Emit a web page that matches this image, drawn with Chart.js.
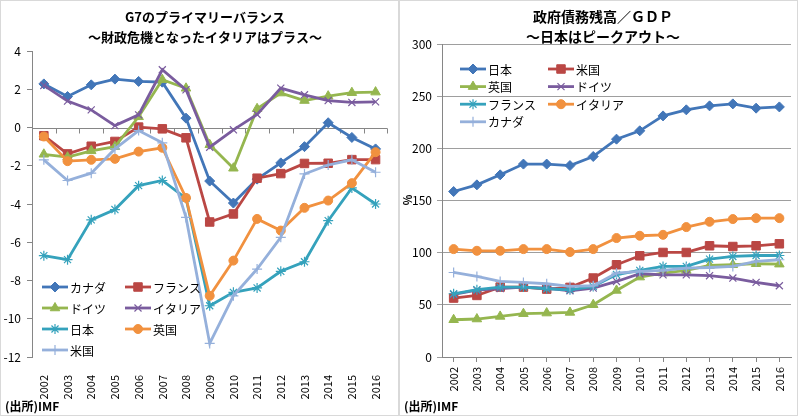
<!DOCTYPE html>
<html>
<head>
<meta charset="utf-8">
<script src="https://cdn.jsdelivr.net/npm/chart.js@4.4.1/dist/chart.umd.min.js"></script>
<style>
  html, body { margin: 0; padding: 0; background: #fff; }
  #wrap { position: relative; width: 798px; height: 416px; overflow: hidden; }
  .box { position: absolute; top: 0; width: 399px; height: 416px; }
  #left { left: 0; }
  #right { left: 399px; }
</style>
</head>
<body>
<div id="wrap">
  <div class="box" id="left"><canvas id="pb-chart"></canvas></div>
  <div class="box" id="right"><canvas id="debt-chart"></canvas></div>
</div>
<script>
const years = ['2002', '2003', '2004', '2005', '2006', '2007', '2008', '2009', '2010', '2011', '2012', '2013', '2014', '2015', '2016'];

// primary balance (% of GDP)
const pbNames = ['カナダ', 'フランス', 'ドイツ', 'イタリア', '日本', '英国', '米国'];
const pbCanada = [2.28, 1.62, 2.23, 2.53, 2.41, 2.37, 0.49, -2.8, -3.95, -2.7, -1.85, -1.0, 0.25, -0.52, -1.12];
const pbFrance = [-0.43, -1.38, -0.98, -0.73, 0.02, -0.07, -0.54, -4.94, -4.52, -2.65, -2.41, -1.88, -1.87, -1.68, -1.68];
const pbGermany = [-1.4, -1.55, -1.22, -1.0, 0.56, 2.5, 2.05, -0.9, -2.13, 0.98, 1.8, 1.41, 1.64, 1.82, 1.85];
const pbItaly = [2.2, 1.38, 0.92, 0.1, 0.66, 3.02, 1.97, -1.03, -0.12, 0.68, 2.06, 1.71, 1.41, 1.31, 1.34];
const pbJapan = [-6.7, -6.91, -4.83, -4.29, -3.04, -2.77, -3.7, -9.32, -8.62, -8.39, -7.52, -7.02, -4.87, -3.16, -4.0];
const pbUK = [-0.47, -1.76, -1.69, -1.64, -1.26, -1.06, -3.68, -8.8, -6.96, -4.78, -5.39, -4.2, -3.82, -2.91, -1.29];
const pbUS = [-1.69, -2.77, -2.39, -1.12, -0.16, -0.8, -4.7, -11.29, -8.8, -7.4, -5.74, -2.43, -1.96, -1.69, -2.34];

// government debt (% of GDP)
const debtNames = ['日本', '米国', '英国', 'ドイツ', 'フランス', 'イタリア', 'カナダ'];
const debtJapan = [158.6, 165, 174.6, 184.9, 184.9, 183.5, 192.2, 208.8, 216.8, 231.1, 236.9, 240.7, 242.6, 238.5, 239.7];
const debtUS = [56.5, 59, 67, 67, 65.1, 66.7, 75.7, 88.4, 97, 100.2, 100.2, 106.6, 105.9, 106.6, 108.5];
const debtUK = [35.7, 36.4, 38.9, 41.5, 42.1, 42.7, 50.1, 63.8, 76.6, 80.5, 83, 87.8, 88.4, 89.4, 89];
const debtGermany = [60, 64, 65.5, 67, 66, 63.5, 66, 72.4, 79.8, 78.8, 78.8, 77.9, 75.7, 71.5, 68.3];
const debtFrance = [60.6, 64.5, 67, 67, 65.4, 64.4, 67.6, 79, 83, 86.8, 86.8, 93.8, 96.4, 97.3, 97.3];
const debtItaly = [103.4, 101.8, 101.8, 103.4, 103.4, 100.6, 103.4, 114, 116.2, 117.1, 124.5, 129.6, 132.2, 133.1, 133.1];
const debtCanada = [81, 77.2, 72.4, 71.5, 70.2, 67.6, 68.3, 80.4, 82, 83, 85.2, 85.8, 86.8, 91.6, 93.2];

const FONT = '"Noto Sans CJK JP", "Noto Sans", sans-serif';
const AXIS = '#868686';

// colour + marker per country (right chart)
const styleOf = {
  'カナダ':   { color: '#95B0DB', marker: 'cross', r: 5 },
  'フランス': { color: '#35A2BC', marker: 'star', r: 5 },
  'ドイツ':   { color: '#7A5C9E', marker: 'crossRot', r: 5 },
  'イタリア': { color: '#F1913F', marker: 'circle', r: 4.5 },
  '日本':     { color: '#4276B8', marker: 'rectRot', r: 5 },
  '英国':     { color: '#95B64F', marker: 'triangle', r: 5.5 },
  '米国':     { color: '#BA4744', marker: 'rect', r: 6 },
};
// left chart uses Excel's default series order instead
const pbStyles = [
  { color: '#4276B8', marker: 'rectRot', r: 5 },
  { color: '#BA4744', marker: 'rect', r: 6 },
  { color: '#95B64F', marker: 'triangle', r: 5.5 },
  { color: '#7A5C9E', marker: 'crossRot', r: 5 },
  { color: '#35A2BC', marker: 'star', r: 5 },
  { color: '#F1913F', marker: 'circle', r: 4.5 },
  { color: '#95B0DB', marker: 'cross', r: 5 },
];

function isThin(st) {
  return st.marker === 'cross' || st.marker === 'crossRot' || st.marker === 'star';
}

function makeSet(label, data, st, i, n) {
  return {
    label: label,
    data: data,
    borderColor: st.color,
    backgroundColor: st.color,
    borderWidth: 2.8,
    pointStyle: st.marker,
    pointRadius: st.r,
    pointBorderWidth: isThin(st) ? 1.2 : 1,
    pointBackgroundColor: st.color,
    pointBorderColor: st.color,
    tension: 0,
    order: n - i,
  };
}

function drawMarker(ctx, st, x, y) {
  ctx.save();
  ctx.fillStyle = st.color;
  ctx.strokeStyle = st.color;
  ctx.lineWidth = isThin(st) ? 1.2 : 1;
  if (Chart.helpers && Chart.helpers.drawPoint) {
    Chart.helpers.drawPoint(ctx, { pointStyle: st.marker, radius: st.r, borderWidth: ctx.lineWidth, rotation: 0 }, x, y);
  } else {
    ctx.beginPath();
    ctx.arc(x, y, st.r, 0, Math.PI * 2);
    ctx.fill();
  }
  ctx.restore();
}

// titles, legend, source note, frame
const extras = {
  id: 'extras',
  beforeDatasetsDraw(chart, args, opts) {
    if (!opts.zeroAxis) return;
    const ctx = chart.ctx;
    const a = chart.chartArea;
    const y0 = Math.round(chart.scales.y.getPixelForValue(0)) + 0.5;
    ctx.save();
    ctx.strokeStyle = AXIS;
    ctx.lineWidth = 1;
    ctx.beginPath();
    ctx.moveTo(a.left, y0);
    ctx.lineTo(a.right, y0);
    const step = (a.right - a.left) / years.length;
    for (let i = 1; i <= years.length; i++) {
      const x = Math.round(a.left + i * step) + 0.5;
      ctx.moveTo(x, y0);
      ctx.lineTo(x, y0 + 5);
    }
    ctx.stroke();
    ctx.restore();
  },
  afterDraw(chart, args, opts) {
    const ctx = chart.ctx;
    const w = chart.width, h = chart.height;
    ctx.save();
    ctx.strokeStyle = '#D9D9D9';
    ctx.lineWidth = 1;
    ctx.strokeRect(0.5, 0.5, w - 1, h - 1);

    ctx.fillStyle = '#000';
    ctx.textAlign = 'center';
    ctx.textBaseline = 'middle';
    ctx.font = 'bold ' + opts.titleSize + 'px ' + FONT;
    opts.title.forEach((t, i) => ctx.fillText(t, opts.titleX, 17 + i * 20));

    ctx.textAlign = 'left';
    ctx.font = 'bold 12px ' + FONT;
    ctx.fillText('(出所)IMF', 5, 406);

    if (opts.yTitle) {
      ctx.save();
      ctx.translate(9, 200);
      ctx.rotate(-Math.PI / 2);
      ctx.textAlign = 'center';
      ctx.font = 'bold 11px ' + FONT;
      ctx.fillText(opts.yTitle, 0, 0);
      ctx.restore();
    }

    // legend, two columns
    const lg = opts.legend;
    ctx.font = '12px ' + FONT;
    chart.data.datasets.forEach((ds, i) => {
      const col = i % 2, row = Math.floor(i / 2);
      const x = lg.cols[col];
      const y = lg.top + row * lg.rowH;
      const st = lg.styles[i];
      ctx.strokeStyle = st.color;
      ctx.lineWidth = 2.8;
      ctx.beginPath();
      ctx.moveTo(x, y);
      ctx.lineTo(x + 26, y);
      ctx.stroke();
      drawMarker(ctx, st, x + 13, y);
      ctx.fillStyle = '#000';
      ctx.fillText(ds.label, x + 28, y + 1);
    });
    ctx.restore();
  },
};

function loadCharts() {
  // left: primary balance
  const pbSeries = [pbCanada, pbFrance, pbGermany, pbItaly, pbJapan, pbUK, pbUS];
  new Chart(document.getElementById('pb-chart').getContext('2d'), {
    type: 'line',
    data: {
      labels: years,
      datasets: pbSeries.map((d, i) => makeSet(pbNames[i], d, pbStyles[i], i, pbSeries.length)),
    },
    options: {
      responsive: true,
      maintainAspectRatio: false,
      animation: false,
      layout: { padding: { top: 51, right: 7, bottom: 0, left: 0 } },
      plugins: {
        legend: { display: false },
        tooltip: { enabled: false },
        extras: {
          title: ['G7のプライマリーバランス', '～財政危機となったイタリアはプラス～'],
          titleSize: 13,
          titleX: 205,
          zeroAxis: true,
          legend: { cols: [42, 125], top: 287, rowH: 21, styles: pbStyles },
        },
      },
      scales: {
        x: {
          offset: true,
          grid: { display: false },
          border: { display: false },
          ticks: { color: '#000', font: { family: FONT, size: 11 }, minRotation: 90, maxRotation: 90, padding: 10 },
          afterFit(scale) { scale.height = 59; },
        },
        y: {
          min: -12,
          max: 4,
          grid: { drawOnChartArea: false, color: AXIS, tickLength: 5 },
          border: { color: AXIS },
          ticks: { stepSize: 2, color: '#000', font: { family: FONT, size: 12 }, padding: 6 },
          afterFit(scale) { scale.width = 32; },
        },
      },
    },
    plugins: [extras],
  });

  // right: debt / GDP
  const debtSeries = [debtJapan, debtUS, debtUK, debtGermany, debtFrance, debtItaly, debtCanada];
  const debtStyles = debtNames.map((n) => styleOf[n]);
  new Chart(document.getElementById('debt-chart').getContext('2d'), {
    type: 'line',
    data: {
      labels: years,
      datasets: debtSeries.map((d, i) => makeSet(debtNames[i], d, debtStyles[i], i, debtSeries.length)),
    },
    options: {
      responsive: true,
      maintainAspectRatio: false,
      animation: false,
      layout: { padding: { top: 44, right: 2, bottom: 0, left: 0 } },
      plugins: {
        legend: { display: false },
        tooltip: { enabled: false },
        extras: {
          title: ['政府債務残高／ＧＤＰ', '～日本はピークアウト～'],
          titleSize: 14,
          titleX: 204,
          yTitle: '%',
          legend: { cols: [61, 149], top: 69, rowH: 17.6, styles: debtStyles },
        },
      },
      scales: {
        x: {
          offset: true,
          grid: { drawOnChartArea: false, color: AXIS, tickLength: 5 },
          border: { color: AXIS },
          ticks: { color: '#000', font: { family: FONT, size: 11 }, minRotation: 90, maxRotation: 90, padding: 5 },
          afterFit(scale) { scale.height = 59; },
        },
        y: {
          min: 0,
          max: 300,
          grid: { color: '#9E9E9E', tickLength: 5 },
          border: { color: AXIS },
          ticks: { stepSize: 50, color: '#000', font: { family: FONT, size: 12 }, padding: 5 },
          afterFit(scale) { scale.width = 43; },
        },
      },
    },
    plugins: [extras],
  });
}

window.onload = loadCharts;
</script>
</body>
</html>
